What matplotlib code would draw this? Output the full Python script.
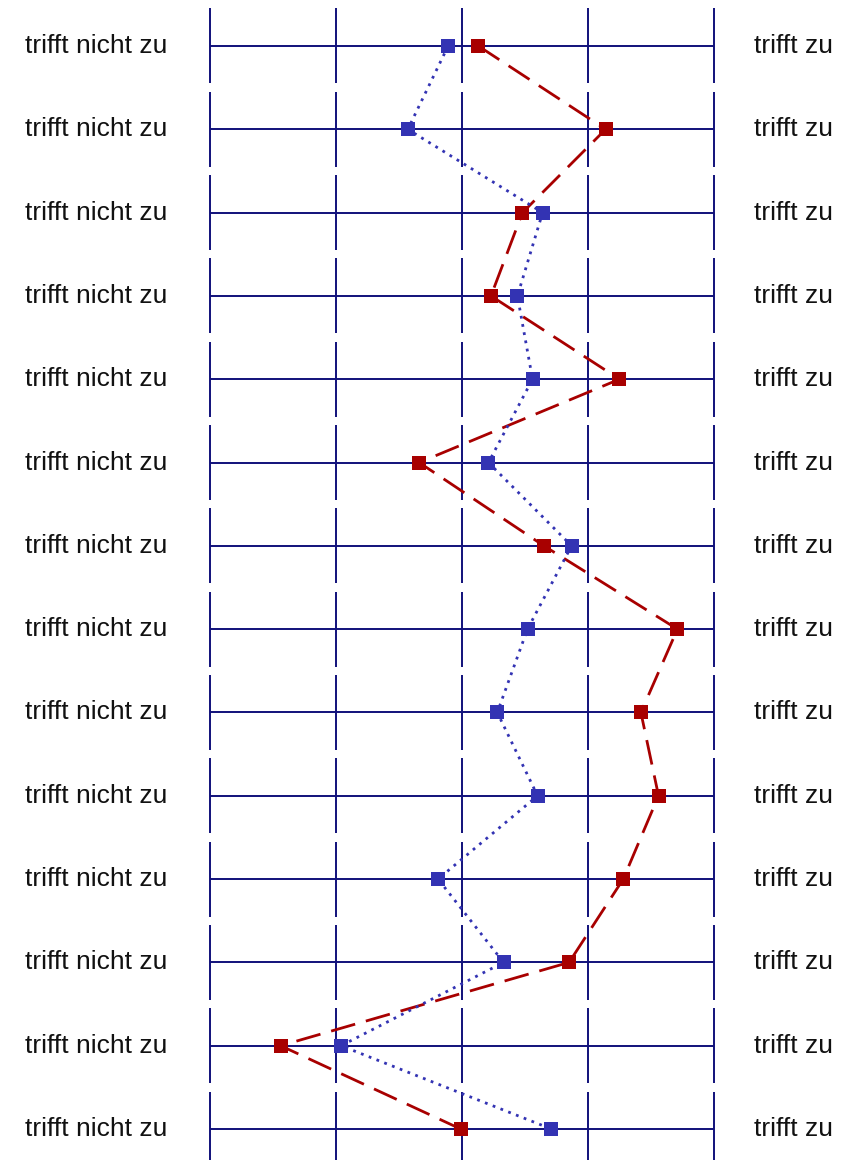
import matplotlib.pyplot as plt

plt.rcParams["font.family"] = ["Liberation Sans", "DejaVu Sans"]

# ---- data ----
left_labels = ["trifft nicht zu"] * 14
right_labels = ["trifft zu"] * 14
scale_ticks = [1, 2, 3, 4, 5]
rows = list(range(1, 15))

red_values = [3.13, 4.14, 3.48, 3.23, 4.25, 2.66, 3.65, 4.71, 4.42, 4.56, 4.28, 3.85, 1.56, 2.99]
blue_values = [2.89, 2.57, 3.64, 3.44, 3.56, 3.21, 3.87, 3.52, 3.28, 3.60, 2.81, 3.33, 2.04, 3.71]

grid_color = "#10107a"
red = "#a80000"
blue = "#3333b3"

fig = plt.figure(figsize=(8.46, 11.6), dpi=100)
ax = fig.add_axes([0, 0, 1, 1])
ax.set_xlim(-0.667, 6.048)
ax.set_ylim(14.372, 0.448)
ax.axis("off")

# horizontal lines per row
ax.hlines(rows, scale_ticks[0], scale_ticks[-1], color=grid_color, lw=1.4, zorder=1)
# vertical segments, broken between rows
for r in rows:
    ax.vlines(scale_ticks, r - 0.45, r + 0.45, color=grid_color, lw=1.4, zorder=1)

# two profiles
ax.plot(red_values, rows, color=red, lw=2.0, linestyle=(0, (9, 4)),
        marker="s", markersize=10, markeredgewidth=0, zorder=3)
ax.plot(blue_values, rows, color=blue, lw=2.0, linestyle=(0, (1, 2)),
        marker="s", markersize=10, markeredgewidth=0, zorder=4)

# labels
for r, lab in zip(rows, left_labels):
    ax.text(-0.467, r, lab, ha="left", va="center", fontsize=19, color="#111111")
for r, lab in zip(rows, right_labels):
    ax.text(5.317, r, lab, ha="left", va="center", fontsize=19, color="#111111")

plt.savefig("out.png", dpi=100)
